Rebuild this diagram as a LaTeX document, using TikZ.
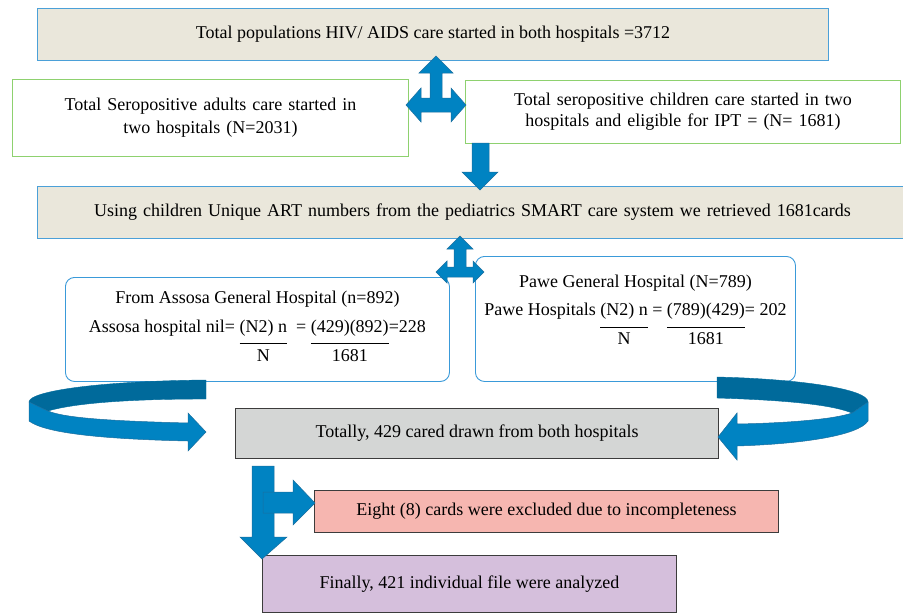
\documentclass[tikz,border=0pt]{standalone}
\usepackage{fontspec}
\setmainfont{Liberation Serif}
\definecolor{arrowblue}{HTML}{0083C2}
\definecolor{arrowline}{HTML}{1C6E9E}
\definecolor{darkband}{HTML}{006A9B}
\definecolor{tanfill}{HTML}{EAE7DB}
\definecolor{tanline}{HTML}{4BA0D8}
\definecolor{greenline}{HTML}{8ED16F}
\definecolor{roundline}{HTML}{3A9AD9}
\definecolor{grayfill}{HTML}{D4D6D5}
\definecolor{pinkfill}{HTML}{F6B6B0}
\definecolor{purplefill}{HTML}{D5BFDC}
\definecolor{boxline}{HTML}{3C3C3C}
\newcommand{\fracpart}[2]{\begin{tabular}[t]{@{}c@{}}#1\\[4pt]\hline\rule{0pt}{18pt}#2\end{tabular}}
\tikzset{
  base/.style={anchor=north west, inner sep=2pt, align=center, font=\fontsize{18}{23}\selectfont},
  tanbox/.style={base, fill=tanfill, draw=tanline, line width=1pt},
  greenbox/.style={base, fill=white, draw=greenline, line width=1pt},
  roundbox/.style={base, fill=white, draw=roundline, line width=0.9pt, rounded corners=9pt},
  flatbox/.style={base, draw=boxline, line width=1pt},
  blockarrow/.style={fill=arrowblue, draw=arrowline, line width=0.5pt, line join=miter},
  bandarrow/.style={fill=darkband, draw=darkband, line width=0.4pt}
}
\begin{document}
\begin{tikzpicture}[x=1pt,y=-1pt]
\useasboundingbox (0,0) rectangle (903,614);
% boxes
\node[tanbox, minimum width=791pt, minimum height=52pt] (top) at (37,8)
  {Total populations HIV/ AIDS care started in both hospitals =3712};
\node[greenbox, minimum width=396pt, minimum height=77pt, text width=380pt] (adults) at (12,79)
  {Total Seropositive adults care started in\\ two hospitals (N=2031)};
\node[greenbox, minimum width=435pt, minimum height=63pt, text width=420pt, font=\fontsize{18}{21}\selectfont] (children) at (465,80)
  {Total seropositive children care started in two\\ hospitals and eligible for IPT = (N= 1681)};
\node[tanbox, minimum width=880pt, minimum height=52pt, text width=870pt] (retrieve) at (37,186)
  {\hspace*{-10pt}Using children Unique ART numbers from the pediatrics SMART care system we retrieved 1681cards\hspace*{10pt}};
\node[roundbox, minimum width=384pt, minimum height=104pt] (assosa) at (65,277)
  {From Assosa General Hospital (n=892)\\[6pt]
   Assosa hospital nil= \fracpart{(N2) n}{N}\ \ = \fracpart{(429)(892)}{1681}=228};
\node[roundbox, minimum width=320pt, minimum height=125pt] (pawe) at (475,256)
  {Pawe General Hospital (N=789)\\[5pt]
   Pawe Hospitals \fracpart{(N2) n}{N} = \fracpart{(789)(429)}{1681}= 202\\[10pt]};
\node[flatbox, fill=grayfill, minimum width=483pt, minimum height=50pt] (total) at (235,408)
  {Totally, 429 cared drawn from both hospitals};
\node[flatbox, fill=pinkfill, minimum width=464pt, minimum height=42pt] (eight) at (314,490)
  {Eight (8) cards were excluded due to incompleteness};
\node[flatbox, fill=purplefill, minimum width=414pt, minimum height=57pt] (final) at (262,555)
  {Finally, 421 individual file were analyzed};
% three-way arrow (top)
\draw[blockarrow] (436,56) -- (453,73) -- (442,73) -- (442,98) -- (451,98) -- (451,88) -- (466,105)
  -- (451,122) -- (451,112) -- (421,112) -- (421,122) -- (406,105) -- (421,88) -- (421,98)
  -- (430,98) -- (430,73) -- (419,73) -- cycle;
% down arrow children -> retrieve
\draw[blockarrow] (472,143) -- (489,143) -- (489,172) -- (498,172) -- (480,190) -- (462,172) -- (472,172) -- cycle;
% three-way arrow (middle)
\draw[blockarrow] (460,236) -- (473,249) -- (466,249) -- (466,267) -- (473,267) -- (473,261) -- (484,272)
  -- (473,283) -- (473,277) -- (447,277) -- (447,283) -- (436,272) -- (447,261) -- (447,267)
  -- (454,267) -- (454,249) -- (447,249) -- cycle;
% left curved arrow
\draw[bandarrow] (206,380) .. controls (100,381) and (29,391) .. (29,402)
  -- (48,411) .. controls (75,403) and (130,399) .. (206,399) -- cycle;
\draw[blockarrow] (29,402) -- (29,421) .. controls (45,433) and (100,439) .. (188,441)
  -- (188,451) -- (206,432) -- (188,413) -- (188,423)
  .. controls (110,421) and (65,418) .. (48,411) -- cycle;
% right curved arrow
\draw[bandarrow] (717,377) .. controls (800,379) and (868,389) .. (868,402)
  -- (852,413) .. controls (830,404) and (780,400) .. (717,398) -- cycle;
\draw[blockarrow] (868,402) -- (868,421) .. controls (858,436) and (800,444) .. (737,446)
  -- (737,460) -- (718,437) -- (737,413) -- (737,424)
  .. controls (790,423) and (835,419) .. (852,413) -- cycle;
% down arrow total -> final
\draw[blockarrow] (252,466) -- (274,466) -- (274,537) -- (287,537) -- (262,559) -- (240,537) -- (252,537) -- cycle;
% right arrow to eight
\draw[blockarrow] (263,492) -- (293,492) -- (293,480) -- (315,503) -- (293,525) -- (293,513) -- (263,513) -- cycle;
\end{tikzpicture}
\end{document}
